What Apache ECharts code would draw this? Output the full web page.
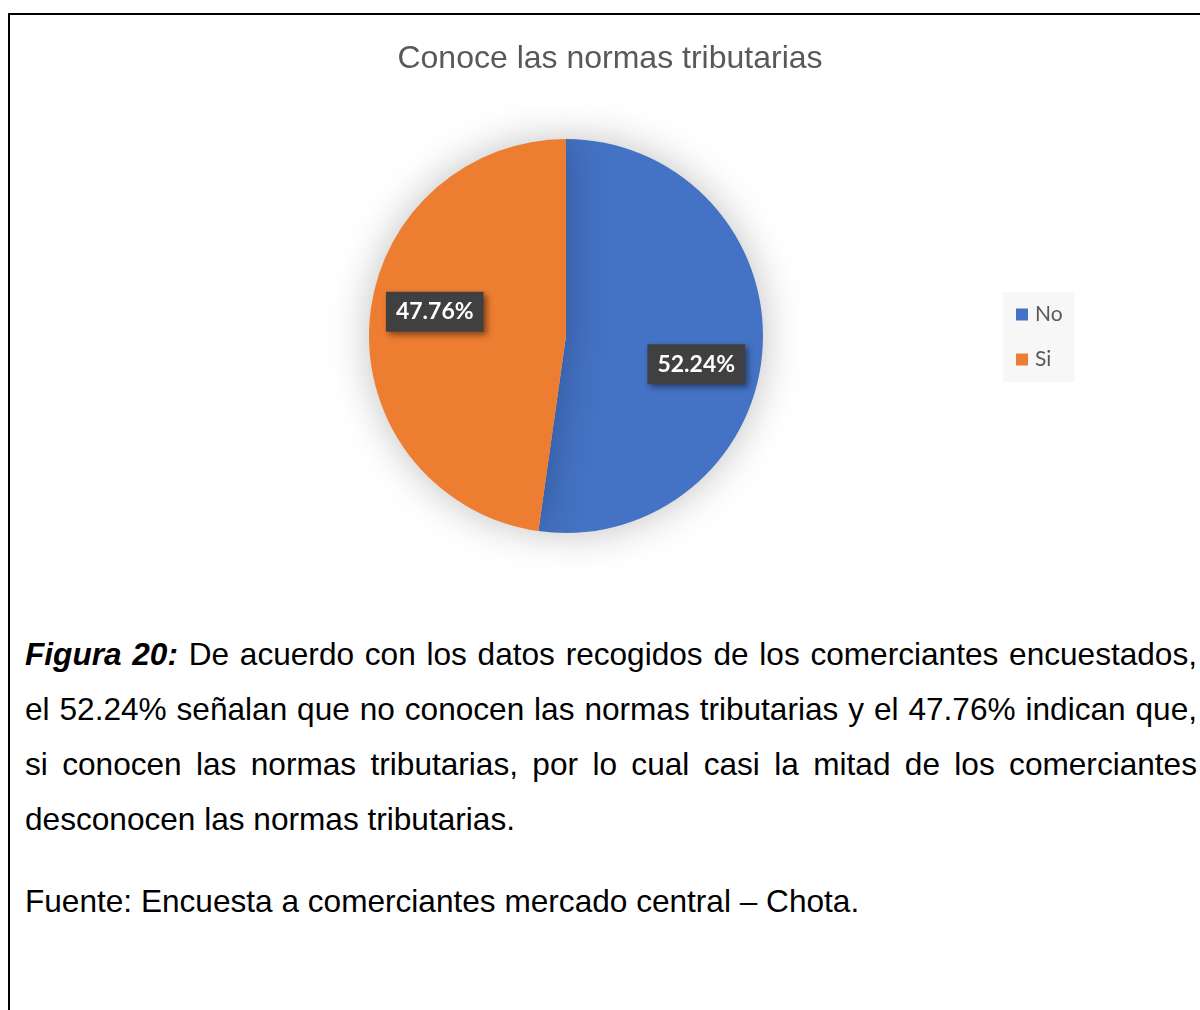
<!DOCTYPE html>
<html>
<head>
<meta charset="utf-8">
<script src="https://cdn.jsdelivr.net/npm/echarts@6/dist/echarts.min.js"></script>
<style>
    html, body { margin: 0; padding: 0; background: #fff; }
    .page { position: relative; width: 1200px; height: 1010px; overflow: hidden; }
    .frame {
        position: absolute; left: 8px; top: 13px; width: 1200px; height: 1010px;
        border-top: 2px solid #000; border-left: 2px solid #000;
    }
    #chart { position: absolute; left: 0; top: 0; width: 1200px; height: 600px; }
    .caption {
        position: absolute; left: 25px; top: 627px; width: 1172px;
        font-family: "Liberation Sans", Arial, sans-serif; font-size: 31.6px;
        line-height: 55px; color: #000;
    }
    .caption .ln { white-space: nowrap; text-align: justify; text-align-last: justify; }
    .caption .ln.last { text-align-last: left; }
    .caption .src { margin-top: 27px; }
</style>
</head>
<body>
<div class="page">
    <div class="frame"></div>
    <div id="chart"></div>
    <div class="caption">
        <div class="ln"><b><i>Figura 20:</i></b> De acuerdo con los datos recogidos de los comerciantes encuestados,</div>
        <div class="ln">el 52.24% señalan que no conocen las normas tributarias y el 47.76% indican que,</div>
        <div class="ln">si conocen las normas tributarias, por lo cual casi la mitad de los comerciantes</div>
        <div class="ln last">desconocen las normas tributarias.</div>
        <div class="ln last src">Fuente: Encuesta a comerciantes mercado central – Chota.</div>
    </div>
</div>
<script>
    // datos del gráfico
    const categories = ['No', 'Si'];
    const values = [52.24, 47.76];
    const colors = ['#4472c4', '#ed7d31'];
    // desplazamiento de las etiquetas (como en Excel)
    const labelOffsets = [[29, 21], [-30, -17]];

    const chart = echarts.init(document.getElementById('chart'));
    const datas = categories.map((name, i) => ({
        name: name,
        value: values[i],
        itemStyle: { color: colors[i] },
        label: { offset: labelOffsets[i] }
    }));

    chart.setOption({
        animation: false,
        title: {
            text: 'Conoce las normas tributarias',
            left: 605,
            textAlign: 'center',
            top: 38,
            textStyle: {
                fontFamily: 'Liberation Sans',
                fontSize: 32,
                fontWeight: 'normal',
                color: '#595959'
            }
        },
        legend: {
            orient: 'vertical',
            left: 1003,
            top: 292,
            padding: [12, 12, 12, 13],
            itemGap: 24,
            itemWidth: 12,
            itemHeight: 12,
            icon: 'rect',
            backgroundColor: '#f7f7f7',
            textStyle: { fontFamily: 'Lato', fontSize: 21, color: '#595959', padding: [0, 0, 0, 2] },
            data: categories
        },
        series: [{
            type: 'pie',
            center: [566, 336],
            radius: [0, 197],
            startAngle: 90,
            clockwise: true,
            silent: true,
            itemStyle: {
                shadowBlur: 40,
                shadowColor: 'rgba(0,0,0,0.25)'
            },
            label: {
                show: true,
                position: 'inside',
                formatter: p => p.value.toFixed(2) + '%',
                fontFamily: 'Lato',
                fontWeight: 'bold',
                fontSize: 23,
                color: '#fff',
                backgroundColor: '#404040',
                padding: [9, 10, 8, 10],
                shadowBlur: 6,
                shadowOffsetX: 3,
                shadowOffsetY: 3,
                shadowColor: 'rgba(0,0,0,0.45)'
            },
            labelLine: { show: false },
            data: datas
        }]
    });
</script>
</body>
</html>
